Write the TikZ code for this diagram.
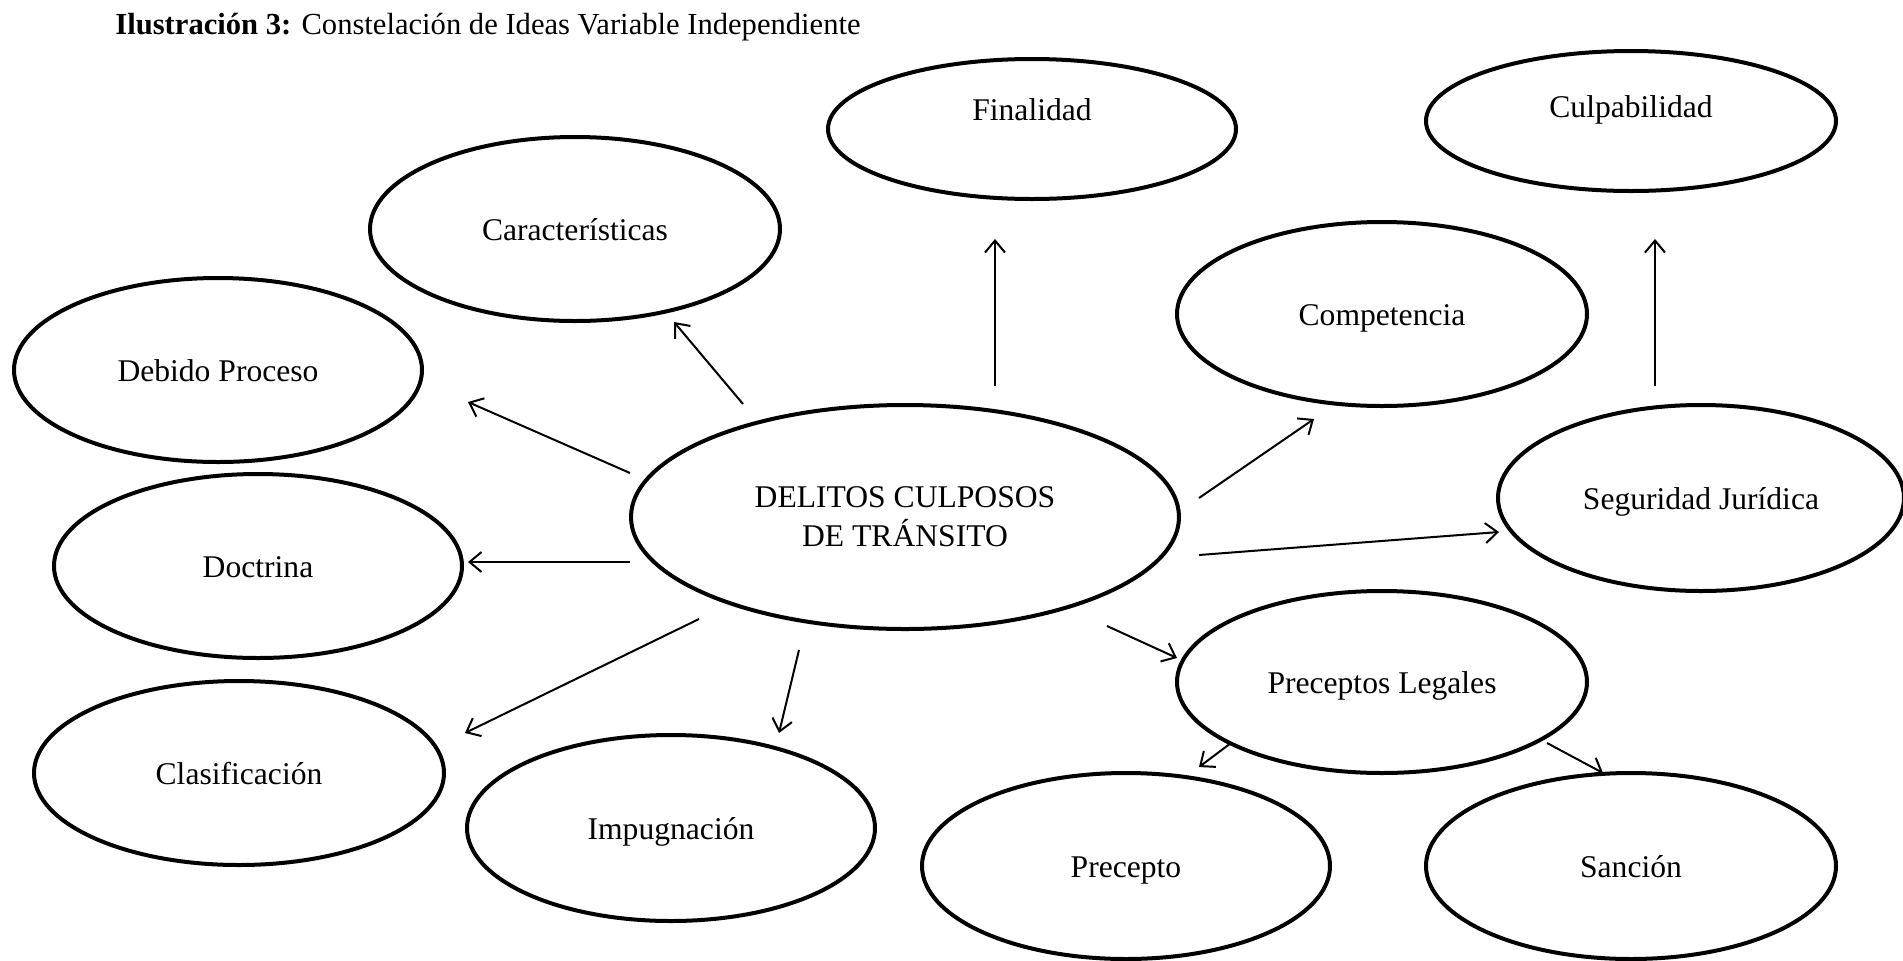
\documentclass[tikz,border=0pt]{standalone}
\usepackage{fontspec}
\setmainfont{Liberation Serif}
\usetikzlibrary{arrows.meta,shapes.geometric}
\begin{document}
\begin{tikzpicture}[x=0.5pt,y=-0.5pt,
  oval/.style={ellipse,draw,line width=2pt,inner sep=0pt,align=center,font=\fontsize{15.8}{19.5}\selectfont,text height=13pt,text depth=1.5pt},
  lbl/.style={font=\fontsize{15.8}{19.5}\selectfont,align=center},
  arr/.style={line width=1pt,-{Straight Barb[length=6pt,width=10pt]}}]
\useasboundingbox (0,0) rectangle (1903,960);
\node[anchor=west,inner sep=0pt,font=\fontsize{15.3}{17}\selectfont] (title) at (115,27) {\textbf{Ilustración 3:} Constelación de Ideas Variable Independiente};

\node[oval,minimum width=204pt,minimum height=70pt] (fin) at (1032,129) {};
\node[lbl] (finT) at (1032,110) {Finalidad};
\node[oval,minimum width=205pt,minimum height=70pt] (cul) at (1631,121) {};
\node[lbl] (culT) at (1631,110) {Culpabilidad};
\node[oval,minimum width=205pt,minimum height=92pt] (car) at (575,229) {Características};
\node[oval,minimum width=205pt,minimum height=92pt] (com) at (1382,314) {Competencia};
\node[oval,minimum width=204pt,minimum height=92pt] (deb) at (218,370) {Debido Proceso};
\node[oval,minimum width=274pt,minimum height=112pt,text height=,text depth=] (del) at (905,517) {DELITOS CULPOSOS\\DE TRÁNSITO};
\node[oval,minimum width=203pt,minimum height=93pt] (seg) at (1701,498) {Seguridad Jurídica};
\node[oval,minimum width=204pt,minimum height=92pt] (doc) at (258,566) {Doctrina};
\node[oval,minimum width=205pt,minimum height=91pt] (pre) at (1382,682) {Preceptos Legales};
\node[oval,minimum width=205pt,minimum height=92pt] (cla) at (239,773) {Clasificación};
\node[oval,minimum width=204pt,minimum height=93pt] (imp) at (671,828) {Impugnación};
\node[oval,minimum width=204pt,minimum height=93pt] (prc) at (1126,866) {Precepto};
\node[oval,minimum width=205pt,minimum height=93pt] (san) at (1631,866) {Sanción};

\coordinate (a1) at (743,404); \coordinate (b1) at (674,322);
\coordinate (a2) at (995,386); \coordinate (b2) at (995,239);
\coordinate (a3) at (630,473); \coordinate (b3) at (468,402);
\coordinate (a4) at (630,562); \coordinate (b4) at (468,562);
\coordinate (a5) at (699,619); \coordinate (b5) at (465,733);
\coordinate (a6) at (799,650); \coordinate (b6) at (779,733);
\coordinate (a7) at (1199,498); \coordinate (b7) at (1314,419);
\coordinate (a8) at (1199,555); \coordinate (b8) at (1499,532);
\coordinate (a9) at (1107,626); \coordinate (b9) at (1177,658);
\coordinate (a10) at (1231,743); \coordinate (b10) at (1199,767);
\coordinate (a11) at (1547,743); \coordinate (b11) at (1603,773);
\coordinate (a12) at (1655,386); \coordinate (b12) at (1655,239);

\foreach \i in {1,...,12} {\draw[arr] (a\i) -- (b\i);}
\end{tikzpicture}
\end{document}
